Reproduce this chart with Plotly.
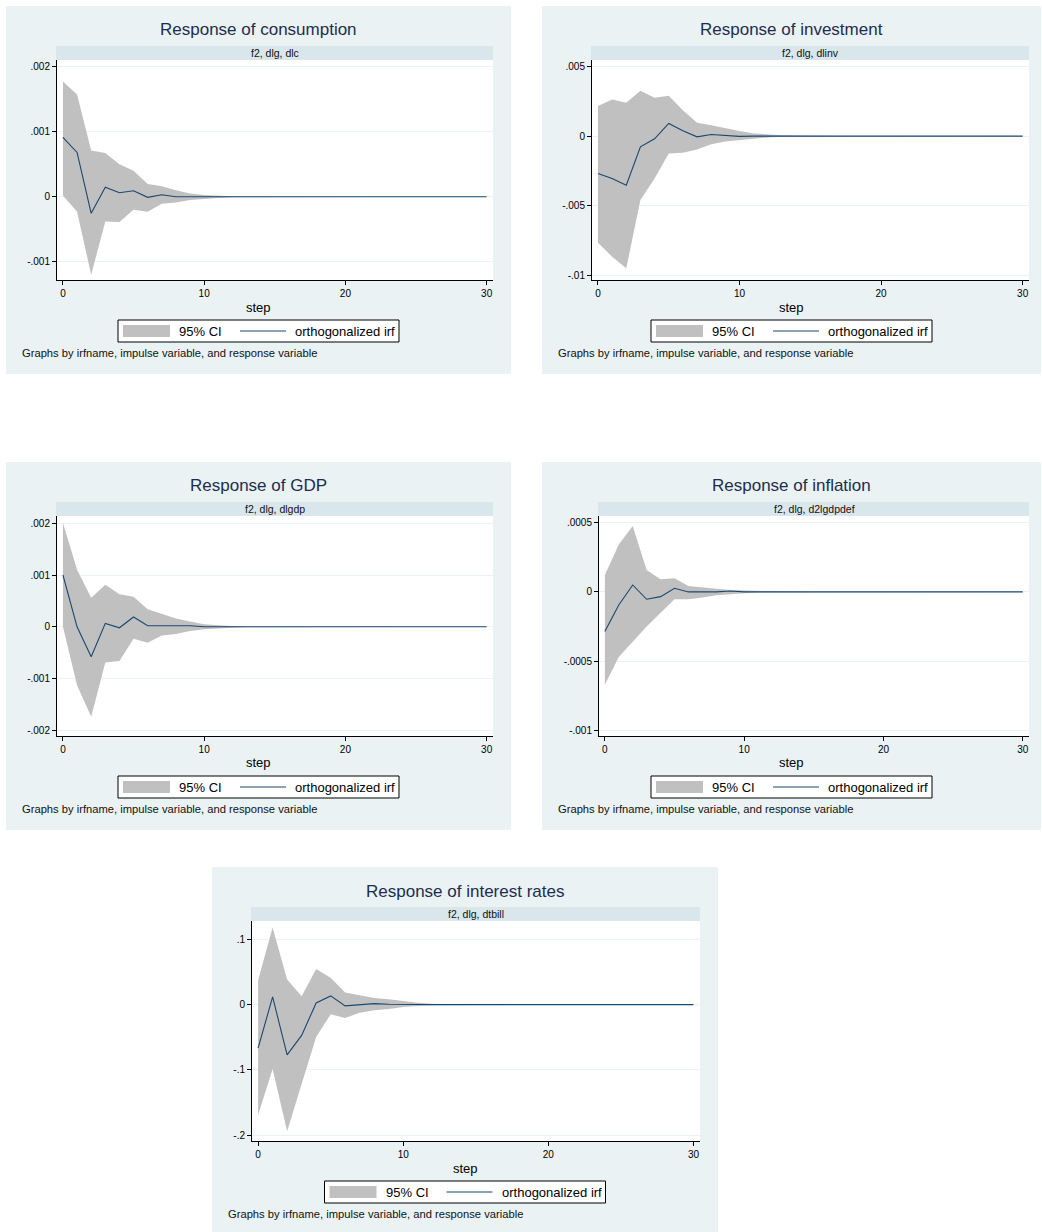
import plotly.graph_objects as go

W, H = 1042, 1232

steps = list(range(31))

# orthogonalized irf and 95% CI
cons_irf = [0.00091, 0.00068, -0.000256, 0.000144, 0.00006, 0.00009, -0.00001, 0.00003, 0.0, 0.0,
            0.0, 0.0, 0.0, 0.0, 0.0, 0.0, 0.0, 0.0, 0.0, 0.0, 0.0, 0.0, 0.0, 0.0, 0.0, 0.0, 0.0, 0.0, 0.0, 0.0, 0.0]
cons_hi = [0.00177, 0.00157, 0.00071, 0.00067, 0.0005, 0.0004, 0.000195, 0.00016, 0.0001, 0.00005,
           0.000025, 0.00001, 0.000005, 0.0, 0.0, 0.0, 0.0, 0.0, 0.0, 0.0, 0.0, 0.0, 0.0, 0.0, 0.0, 0.0, 0.0, 0.0, 0.0, 0.0, 0.0]
cons_lo = [0.00002, -0.00023, -0.0012, -0.00038, -0.00039, -0.0002, -0.00023, -0.00011, -0.00009, -0.00005,
           -0.00004, -0.00002, -0.00001, -0.000005, 0.0, 0.0, 0.0, 0.0, 0.0, 0.0, 0.0, 0.0, 0.0, 0.0, 0.0, 0.0, 0.0, 0.0, 0.0, 0.0, 0.0]

inv_irf = [-0.00269, -0.00305, -0.00353, -0.00077, -0.00019, 0.00091, 0.00038, -0.00005, 0.00012, 0.00005,
           -0.00002, 0.0, 0.0, 0.0, 0.0, 0.0, 0.0, 0.0, 0.0, 0.0, 0.0, 0.0, 0.0, 0.0, 0.0, 0.0, 0.0, 0.0, 0.0, 0.0, 0.0]
inv_hi = [0.00216, 0.00264, 0.0024, 0.00326, 0.00276, 0.0029, 0.00187, 0.00096, 0.00079, 0.00055,
          0.00036, 0.00019, 0.00012, 0.00007, 0.00005, 0.00002, 0.0, 0.0, 0.0, 0.0, 0.0, 0.0, 0.0, 0.0, 0.0, 0.0, 0.0, 0.0, 0.0, 0.0, 0.0]
inv_lo = [-0.00767, -0.00868, -0.00952, -0.0046, -0.00305, -0.00125, -0.0012, -0.00096, -0.00058, -0.00038,
          -0.00029, -0.00019, -0.0001, -0.00005, 0.0, 0.0, 0.0, 0.0, 0.0, 0.0, 0.0, 0.0, 0.0, 0.0, 0.0, 0.0, 0.0, 0.0, 0.0, 0.0, 0.0]

gdp_irf = [0.001, 0.0, -0.00058, 0.000065, -0.00002, 0.00019, 0.00002, 0.00002, 0.00002, 0.00002,
           0.0, 0.0, 0.0, 0.0, 0.0, 0.0, 0.0, 0.0, 0.0, 0.0, 0.0, 0.0, 0.0, 0.0, 0.0, 0.0, 0.0, 0.0, 0.0, 0.0, 0.0]
gdp_hi = [0.00201, 0.0011, 0.00056, 0.00081, 0.00063, 0.00058, 0.00034, 0.00025, 0.00016, 0.0001,
          0.00005, 0.00003, 0.00001, 0.0, 0.0, 0.0, 0.0, 0.0, 0.0, 0.0, 0.0, 0.0, 0.0, 0.0, 0.0, 0.0, 0.0, 0.0, 0.0, 0.0, 0.0]
gdp_lo = [0.0, -0.00113, -0.00174, -0.00069, -0.00066, -0.00023, -0.00031, -0.00017, -0.00014, -0.00008,
          -0.00005, -0.00003, -0.00002, -0.00001, -0.000005, 0.0, 0.0, 0.0, 0.0, 0.0, 0.0, 0.0, 0.0, 0.0, 0.0, 0.0, 0.0, 0.0, 0.0, 0.0, 0.0]

infl_irf = [-0.000285, -0.000094, 0.00005, -0.000053, -0.000034, 0.000026, 0.0, 0.0, 0.0, 0.000007,
            0.0, 0.0, 0.0, 0.0, 0.0, 0.0, 0.0, 0.0, 0.0, 0.0, 0.0, 0.0, 0.0, 0.0, 0.0, 0.0, 0.0, 0.0, 0.0, 0.0, 0.0]
infl_hi = [0.000122, 0.000343, 0.000475, 0.000158, 0.000091, 0.000098, 0.000043, 0.000031, 0.000022, 0.000014,
           0.00001, 0.000005, 0.000005, 0.000003, 0.0, 0.0, 0.0, 0.0, 0.0, 0.0, 0.0, 0.0, 0.0, 0.0, 0.0, 0.0, 0.0, 0.0, 0.0, 0.0, 0.0]
infl_lo = [-0.00067, -0.00047, -0.00036, -0.00025, -0.00015, -0.000053, -0.000053, -0.00004, -0.000024, -0.000017,
           -0.00001, -0.000005, 0.0, 0.0, 0.0, 0.0, 0.0, 0.0, 0.0, 0.0, 0.0, 0.0, 0.0, 0.0, 0.0, 0.0, 0.0, 0.0, 0.0, 0.0, 0.0]

rate_irf = [-0.0667, 0.0118, -0.0769, -0.0472, 0.0026, 0.0133, -0.002, 0.0, 0.0015, 0.0005,
            0.0, 0.0, 0.0, 0.0, 0.0, 0.0, 0.0, 0.0, 0.0, 0.0, 0.0, 0.0, 0.0, 0.0, 0.0, 0.0, 0.0, 0.0, 0.0, 0.0, 0.0]
rate_hi = [0.0374, 0.118, 0.0385, 0.0128, 0.0544, 0.041, 0.0185, 0.0144, 0.0103, 0.0082,
           0.0051, 0.003, 0.0015, 0.0005, 0.0, 0.0, 0.0, 0.0, 0.0, 0.0, 0.0, 0.0, 0.0, 0.0, 0.0, 0.0, 0.0, 0.0, 0.0, 0.0, 0.0]
rate_lo = [-0.169, -0.0985, -0.194, -0.1215, -0.0497, -0.0149, -0.0205, -0.0123, -0.0087, -0.0067,
           -0.0036, -0.002, -0.001, -0.0005, 0.0, 0.0, 0.0, 0.0, 0.0, 0.0, 0.0, 0.0, 0.0, 0.0, 0.0, 0.0, 0.0, 0.0, 0.0, 0.0, 0.0]

titles = ["Response of consumption", "Response of investment", "Response of GDP",
          "Response of inflation", "Response of interest rates"]
strips = ["f2, dlg, dlc", "f2, dlg, dlinv", "f2, dlg, dlgdp", "f2, dlg, d2lgdpdef", "f2, dlg, dtbill"]

yticks = [
    [-0.001, 0, 0.001, 0.002],
    [-0.01, -0.005, 0, 0.005],
    [-0.002, -0.001, 0, 0.001, 0.002],
    [-0.001, -0.0005, 0, 0.0005],
    [-0.2, -0.1, 0, 0.1],
]
ytick_labels = [
    ["-.001", "0", ".001", ".002"],
    ["-.01", "-.005", "0", ".005"],
    ["-.002", "-.001", "0", ".001", ".002"],
    ["-.001", "-.0005", "0", ".0005"],
    ["-.2", "-.1", "0", ".1"],
]
xticks = [0, 10, 20, 30]

series = [
    (cons_irf, cons_lo, cons_hi),
    (inv_irf, inv_lo, inv_hi),
    (gdp_irf, gdp_lo, gdp_hi),
    (infl_irf, infl_lo, infl_hi),
    (rate_irf, rate_lo, rate_hi),
]

# layout of the panels in pixels: bg left, bg top, bg right, plot left, plot right
boxes = [
    (6, 6, 511, 57, 493),
    (542, 6, 1041, 592, 1029),
    (6, 462, 511, 57, 493),
    (542, 462, 1041, 599, 1029),
    (212, 867, 718, 252, 700),
]
yranges = [
    [-0.00128, 0.0021],
    [-0.01036, 0.00548],
    [-0.00211, 0.00214],
    [-0.00104, 0.000548],
    [-0.2088, 0.128],
]

FONT = "Liberation Sans, Arial, sans-serif"
BG = "#EAF2F3"
STRIP = "#D9E6EB"
CI = "#C0C0C0"
NAVY = "#1A476F"
TITLE = "#1E2D4E"


def px(x):
    return x / W


def py(y):
    return 1 - y / H


fig = go.Figure()
shapes = []
annotations = []
layout_axes = {}

for i in range(5):
    irf, lo, hi = series[i]
    bl, bt, br, pl, pr = boxes[i]
    pt = bt + 54
    pb = bt + 274
    bb = min(bt + 368, H)
    cx = (bl + br) / 2
    n = "" if i == 0 else str(i + 1)

    fig.add_trace(go.Scatter(
        x=steps + steps[::-1],
        y=hi + lo[::-1],
        fill="toself",
        fillcolor=CI,
        line=dict(width=0, color=CI),
        mode="lines",
        hoverinfo="skip",
        showlegend=False,
        xaxis="x" + n,
        yaxis="y" + n
    ))
    fig.add_trace(go.Scatter(
        x=steps,
        y=irf,
        mode="lines",
        line=dict(color=NAVY, width=1.1),
        showlegend=False,
        xaxis="x" + n,
        yaxis="y" + n
    ))

    layout_axes["xaxis" + n] = dict(
        domain=[px(pl), px(pr)],
        anchor="y" + n,
        range=[-0.42, 30.45],
        tickvals=xticks,
        ticks="outside",
        ticklen=4,
        tickcolor="#000000",
        showgrid=False,
        zeroline=False,
        showline=True,
        linecolor="#000000",
        linewidth=1,
        tickfont=dict(family=FONT, size=10, color="#000000"),
        fixedrange=True
    )
    layout_axes["yaxis" + n] = dict(
        domain=[py(pb), py(pt)],
        anchor="x" + n,
        range=yranges[i],
        tickvals=yticks[i],
        ticktext=ytick_labels[i],
        ticks="outside",
        ticklen=4,
        tickcolor="#000000",
        showgrid=True,
        gridcolor=BG,
        gridwidth=1,
        zeroline=False,
        showline=True,
        linecolor="#000000",
        linewidth=1,
        tickfont=dict(family=FONT, size=10, color="#000000"),
        fixedrange=True
    )

    # panel background, white plot region, strip
    shapes.append(dict(type="rect", xref="paper", yref="paper", layer="below",
                       x0=px(bl), x1=px(br), y0=py(bb), y1=py(bt),
                       fillcolor=BG, line=dict(width=0)))
    shapes.append(dict(type="rect", xref="paper", yref="paper", layer="below",
                       x0=px(pl), x1=px(pr), y0=py(pb), y1=py(pt),
                       fillcolor="#FFFFFF", line=dict(width=0)))
    shapes.append(dict(type="rect", xref="paper", yref="paper", layer="below",
                       x0=px(pl - 1), x1=px(pr), y0=py(pt), y1=py(bt + 40),
                       fillcolor=STRIP, line=dict(width=0)))

    annotations.append(dict(x=px(cx), y=py(bt + 24), xref="paper", yref="paper",
                            text=titles[i], showarrow=False, xanchor="center", yanchor="middle",
                            font=dict(family=FONT, size=17, color=TITLE)))
    annotations.append(dict(x=px((pl + pr) / 2), y=py(bt + 47), xref="paper", yref="paper",
                            text=strips[i], showarrow=False, xanchor="center", yanchor="middle",
                            font=dict(family=FONT, size=10.5, color="#111111")))
    annotations.append(dict(x=px(cx), y=py(bt + 301), xref="paper", yref="paper",
                            text="step", showarrow=False, xanchor="center", yanchor="middle",
                            font=dict(family=FONT, size=13, color="#000000")))

    # legend box
    lx0 = cx - 140.5
    lt = bt + 314
    shapes.append(dict(type="rect", xref="paper", yref="paper",
                       x0=px(lx0), x1=px(lx0 + 281), y0=py(lt + 22), y1=py(lt),
                       fillcolor="#FFFFFF", line=dict(color="#000000", width=1)))
    shapes.append(dict(type="rect", xref="paper", yref="paper",
                       x0=px(lx0 + 5), x1=px(lx0 + 52), y0=py(lt + 17), y1=py(lt + 5),
                       fillcolor=CI, line=dict(width=0)))
    shapes.append(dict(type="line", xref="paper", yref="paper",
                       x0=px(lx0 + 122), x1=px(lx0 + 168), y0=py(lt + 11), y1=py(lt + 11),
                       line=dict(color=NAVY, width=1.1)))
    annotations.append(dict(x=px(lx0 + 59), y=py(lt + 11), xref="paper", yref="paper",
                            text="95% CI", showarrow=False, xanchor="left", yanchor="middle",
                            font=dict(family=FONT, size=13, color="#000000")))
    annotations.append(dict(x=px(lx0 + 175), y=py(lt + 11), xref="paper", yref="paper",
                            text="orthogonalized irf", showarrow=False, xanchor="left", yanchor="middle",
                            font=dict(family=FONT, size=13, color="#000000")))

    annotations.append(dict(x=px(bl + 14), y=py(bt + 347), xref="paper", yref="paper",
                            text="Graphs by irfname, impulse variable, and response variable",
                            showarrow=False, xanchor="left", yanchor="middle",
                            font=dict(family=FONT, size=11.2, color="#111111")))

fig.update_layout(
    width=W,
    height=H,
    margin=dict(l=0, r=0, t=0, b=0),
    paper_bgcolor="#FFFFFF",
    plot_bgcolor="#FFFFFF",
    showlegend=False,
    shapes=shapes,
    annotations=annotations,
    **layout_axes
)

fig.write_html("out.html", config={"displayModeBar": False},
               post_script="document.body.style.margin='0px';")
